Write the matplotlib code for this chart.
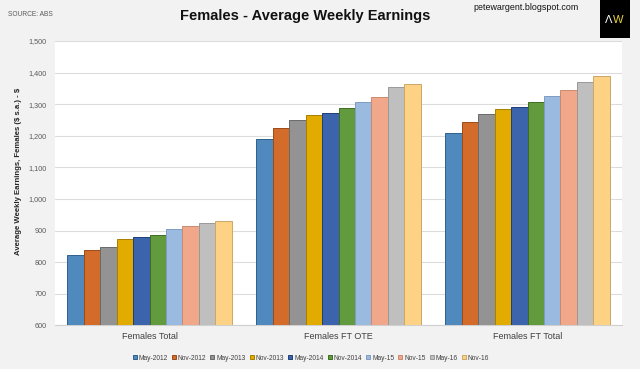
import numpy as np
import matplotlib
matplotlib.use("Agg")
import matplotlib.pyplot as plt
from matplotlib.patches import Rectangle
from matplotlib.ticker import FuncFormatter

plt.rcParams['font.family'] = ['Liberation Sans', 'DejaVu Sans']

categories = ['Females Total', 'Females FT OTE', 'Females FT Total']
periods = ['May-2012', 'Nov-2012', 'May-2013', 'Nov-2013', 'May-2014',
           'Nov-2014', 'May-15', 'Nov-15', 'May-16', 'Nov-16']

# weekly earnings ($) per period, one value per category
values = {
    'May-2012': [822, 1190, 1208],
    'Nov-2012': [838, 1226, 1242],
    'May-2013': [849, 1250, 1268],
    'Nov-2013': [872, 1267, 1284],
    'May-2014': [879, 1273, 1292],
    'Nov-2014': [885, 1289, 1307],
    'May-15': [906, 1308, 1325],
    'Nov-15': [913, 1324, 1344],
    'May-16': [923, 1353, 1369],
    'Nov-16': [930, 1365, 1388],
}

colors = ['#4f89bd', '#d36c2a', '#939393', '#e2ab00', '#3c64ad',
          '#629b3d', '#9bbae0', '#f1a88a', '#bfbfbf', '#fed285']
edges = ['#2f5f8c', '#9c4a17', '#6a6a6a', '#a87f00', '#1f3f7a',
         '#3f6b22', '#7f9cc2', '#c98a70', '#999999', '#c9a868']

fig = plt.figure(figsize=(6.4, 3.69), dpi=100, facecolor='#f2f2f2')
ax = fig.add_axes([55 / 640, (369 - 325.3) / 369, 567 / 640, 284.3 / 369])
ax.set_facecolor('white')

n = len(periods)
group_w = 0.868
w = group_w / n
x = np.arange(len(categories))
for i, p in enumerate(periods):
    ax.bar(x - group_w / 2 + w * (i + 0.5), values[p], width=w,
           color=colors[i], edgecolor=edges[i], linewidth=0.7,
           label=p, zorder=3)

ax.set_xlim(-0.5, 2.5)
ax.set_ylim(600, 1500)
ax.set_yticks(np.arange(600, 1501, 100))
ax.yaxis.set_major_formatter(FuncFormatter(lambda v, _: f'{int(v):,}'))
ax.grid(axis='y', color='#dcdcdc', linewidth=0.8, zorder=0)
for s in ['top', 'right', 'left']:
    ax.spines[s].set_visible(False)
ax.spines['bottom'].set_color('#d0d0d0')
ax.tick_params(axis='y', length=0, labelsize=5.2, labelcolor='#595959', pad=6)
ax.tick_params(axis='x', length=0, labelsize=6.5, labelcolor='#404040', pad=5)
ax.set_xticks(x)
ax.set_xticklabels(categories)

fig.text(19 / 640, 1 - 171 / 369, r'Average Weekly Earnings, Females (\$ s.a.) - \$',
         rotation=90, ha='center', va='center', fontsize=5.6, fontweight='bold',
         color='#262626')

fig.text(305 / 640, 1 - 16 / 369, 'Females - Average Weekly Earnings',
         ha='center', va='center', fontsize=10.5, fontweight='bold',
         color='#111111')
fig.text(8 / 640, 1 - 15 / 369, 'SOURCE: ABS', ha='left', va='center',
         fontsize=4.8, color='#595959')
fig.text(526 / 640, 1 - 8 / 369, 'petewargent.blogspot.com', ha='center',
         va='center', fontsize=6.4, color='#111111')

# logo box
fig.patches.append(Rectangle((600 / 640, 1 - 38 / 369), 30 / 640, 38 / 369,
                             transform=fig.transFigure, facecolor='black',
                             edgecolor='none'))
fig.text(609 / 640, 1 - 20 / 369, 'Λ', ha='center', va='center',
         fontsize=8, color='white')
fig.text(618 / 640, 1 - 20 / 369, 'W', ha='center', va='center',
         fontsize=8, color='#e8d33a')

fig.legend(loc='center', bbox_to_anchor=(311 / 640, 11 / 369), ncol=n,
           frameon=False, fontsize=4.8, handlelength=0.6, handleheight=0.6,
           handletextpad=0.3, columnspacing=0.6, labelcolor='#404040')

fig.savefig('out.png', dpi=100, facecolor=fig.get_facecolor())
